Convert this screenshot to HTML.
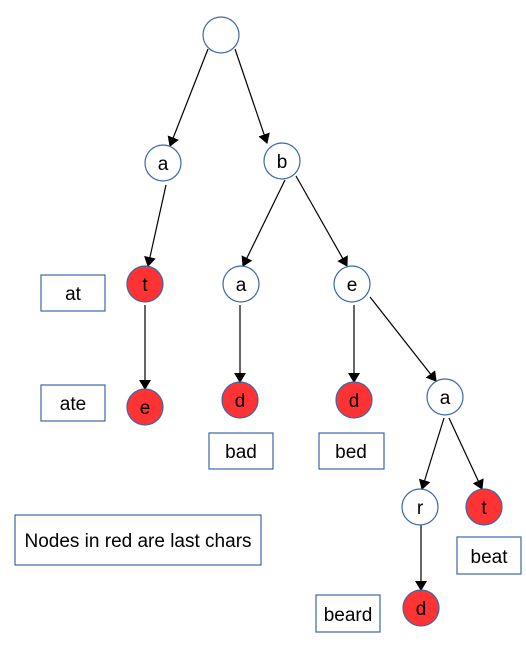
<!DOCTYPE html>
<html><head><style>
body{margin:0;width:526px;height:642px;background:#fff;overflow:hidden}
text{font-family:"Liberation Sans",sans-serif;font-size:19px;fill:#000}
</style></head><body>
<svg width="526" height="642" viewBox="0 0 526 642">
<defs><marker id="m" markerWidth="10" markerHeight="12" refX="9" refY="6" orient="auto" markerUnits="userSpaceOnUse"><path d="M0,0 L10,6 L0,12 z" fill="#000"/></marker></defs>
<g stroke="#000" stroke-width="1.2" marker-end="url(#m)">
<line x1="208" y1="49" x2="170" y2="146"/>
<line x1="235" y1="49" x2="267" y2="143"/>
<line x1="166" y1="185" x2="148" y2="266"/>
<line x1="285" y1="180" x2="243" y2="266"/>
<line x1="296" y1="176" x2="347" y2="266"/>
<line x1="370" y1="297" x2="436" y2="381"/>
<line x1="145" y1="305" x2="145" y2="389"/>
<line x1="240" y1="305" x2="240" y2="382"/>
<line x1="354" y1="305" x2="354" y2="382"/>
<line x1="444" y1="418" x2="422" y2="489"/>
<line x1="449" y1="418" x2="482" y2="489"/>
<line x1="421" y1="525" x2="421" y2="590"/>
</g>
<g stroke="#3a68a8" stroke-width="1.2">
<circle cx="221" cy="35" r="18" fill="#fff"/>
<circle cx="163" cy="163" r="18" fill="#fff"/>
<circle cx="282" cy="161" r="18" fill="#fff"/>
<circle cx="145" cy="284" r="18" fill="#f33"/>
<circle cx="241" cy="284" r="18" fill="#fff"/>
<circle cx="352" cy="284" r="18" fill="#fff"/>
<circle cx="145" cy="407" r="18" fill="#f33"/>
<circle cx="240" cy="400" r="18" fill="#f33"/>
<circle cx="354" cy="400" r="18" fill="#f33"/>
<circle cx="445" cy="397" r="18" fill="#fff"/>
<circle cx="420" cy="507" r="18" fill="#fff"/>
<circle cx="484" cy="507" r="18" fill="#f33"/>
<circle cx="421" cy="608" r="18" fill="#f33"/>
<g fill="#fff">
<rect x="41" y="275" width="64" height="36"/>
<rect x="41" y="385" width="64" height="36"/>
<rect x="209" y="433" width="64" height="36"/>
<rect x="319" y="433" width="65" height="36"/>
<rect x="457" y="537" width="64" height="37"/>
<rect x="316" y="595" width="64" height="37"/>
<rect x="15" y="515" width="246" height="50"/>
</g></g>
<g text-anchor="middle">
<text x="163" y="170">a</text><text x="282" y="168">b</text>
<text x="145" y="291">t</text><text x="241" y="291">a</text><text x="352" y="291">e</text>
<text x="145" y="414">e</text><text x="240" y="407">d</text><text x="354" y="407">d</text>
<text x="445" y="404">a</text><text x="420" y="514">r</text><text x="484" y="514">t</text><text x="421" y="615">d</text>
<text x="73" y="300">at</text><text x="73" y="410">ate</text>
<text x="241" y="458">bad</text><text x="351" y="458">bed</text>
<text x="489" y="563">beat</text><text x="348" y="621">beard</text>
<text x="138" y="547">Nodes in red are last chars</text>
</g>
</svg>
</body></html>
